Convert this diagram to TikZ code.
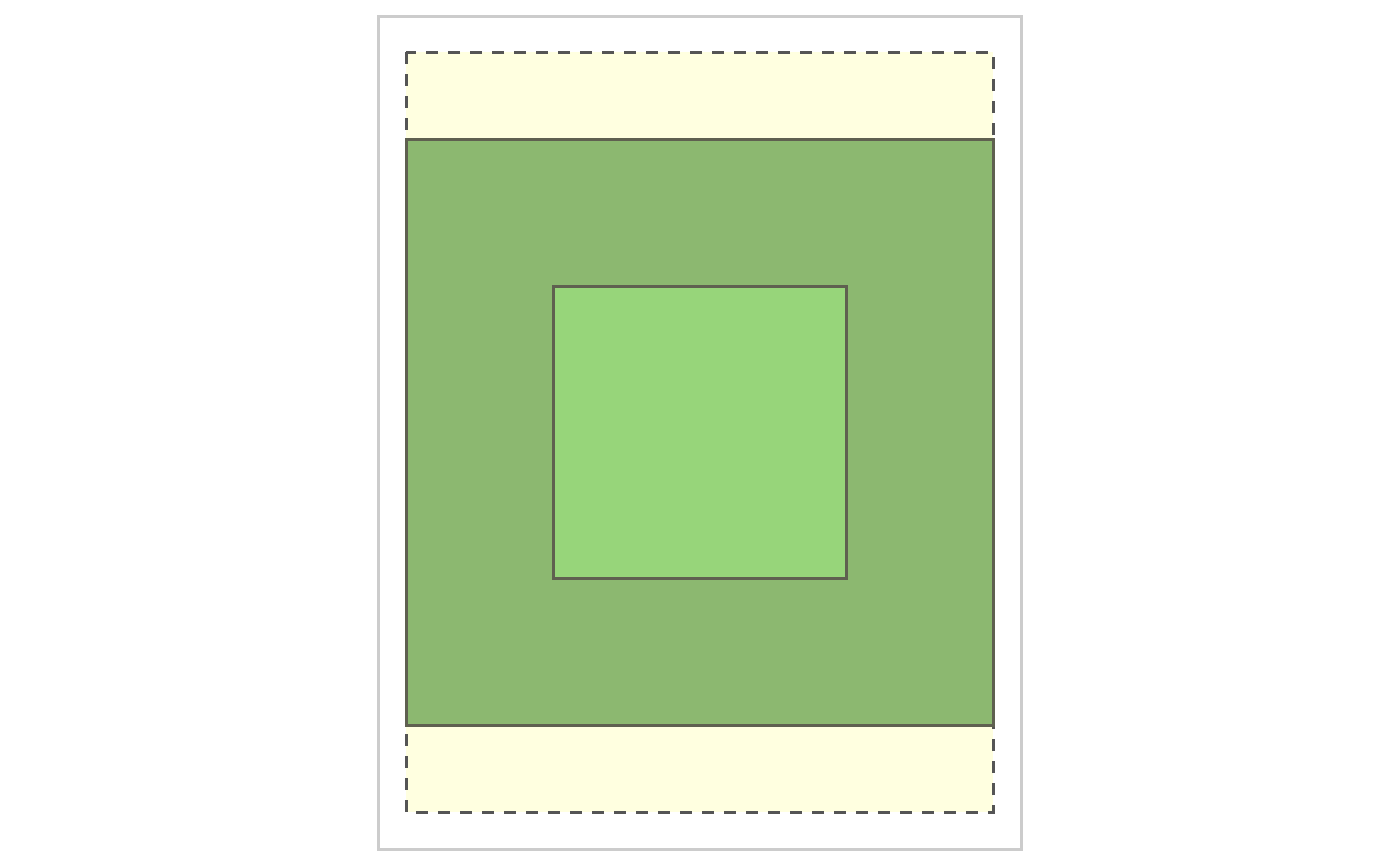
\documentclass[tikz,border=0pt]{standalone}
\definecolor{framegray}{HTML}{CCCCCC}
\definecolor{paleyellow}{HTML}{FFFFE0}
\definecolor{dashgray}{HTML}{555555}
\definecolor{darkgreen}{HTML}{8CB870}
\definecolor{lightgreen}{HTML}{97D57A}
\definecolor{edgegray}{HTML}{5F6050}
\tikzset{
  frame/.style={draw=framegray, line width=3pt},
  bleed/.style={draw=dashgray, fill=paleyellow, line width=3pt, dash pattern=on 12pt off 10pt},
  outerbox/.style={draw=edgegray, fill=darkgreen, line width=3pt},
  innerbox/.style={draw=edgegray, fill=lightgreen, line width=3pt}
}
\begin{document}
\begin{tikzpicture}[x=1pt,y=-1pt]
\useasboundingbox (0,0) rectangle (1400,865);
\path[frame] (378,16) rectangle (1021,849);
\path[bleed] (406,52) rectangle (993,812);
\path[outerbox] (406,139) rectangle (993,725);
\path[innerbox] (553,286) rectangle (846,578);
\end{tikzpicture}
\end{document}
